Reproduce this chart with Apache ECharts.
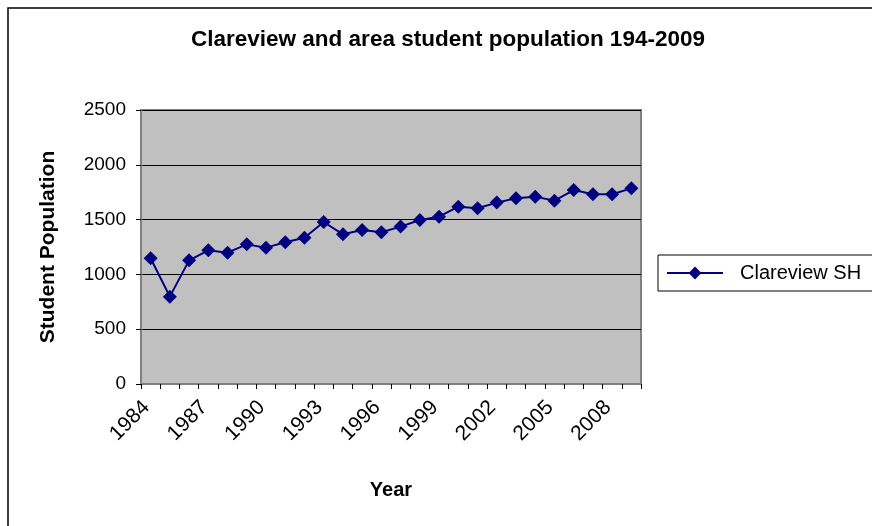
<!DOCTYPE html>
<html>
<head>
<meta charset="utf-8">
<script src="https://cdn.jsdelivr.net/npm/echarts@6/dist/echarts.min.js"></script>
<style>
html,body{margin:0;padding:0;background:#fff;}
#chart{width:872px;height:526px;}
</style>
</head>
<body>
<div id="chart"></div>
<script>
var years = ['1984','1985','1986','1987','1988','1989','1990','1991','1992','1993','1994','1995','1996','1997','1998','1999','2000','2001','2002','2003','2004','2005','2006','2007','2008','2009'];
var population = [1147, 797, 1128, 1220, 1198, 1274, 1244, 1293, 1335, 1478, 1366, 1405, 1384, 1436, 1496, 1527, 1618, 1603, 1655, 1694, 1709, 1673, 1770, 1731, 1731, 1785];
var seriesName = 'Clareview SH';
var titleText = 'Clareview and area student population 194-2009';
var yAxisName = 'Student Population';
var xAxisName = 'Year';

var FONT = '"Liberation Sans", Arial, sans-serif';
var chart = echarts.init(document.getElementById('chart'), null, {renderer: 'canvas'});
chart.setOption({
  animation: false,
  backgroundColor: '#ffffff',
  graphic: [
    {type: 'rect', shape: {x: 8, y: 8, width: 900, height: 600}, style: {fill: 'none', stroke: '#000', lineWidth: 1.5}, z: -10},
    {type: 'text', x: 448, y: 40, style: {text: titleText, font: 'bold 22.5px ' + FONT, fill: '#000', textAlign: 'center', textVerticalAlign: 'middle'}}
  ],
  grid: {left: 141, right: 231, top: 110, bottom: 142, show: true, backgroundColor: '#C0C0C0', borderColor: '#808080', borderWidth: 2},
  legend: {
    left: 658, top: 255, orient: 'vertical',
    itemWidth: 56, itemHeight: 16, itemGap: 5,
    padding: [8, 40, 8, 8],
    borderColor: '#000', borderWidth: 1, backgroundColor: '#fff',
    textStyle: {fontFamily: FONT, fontSize: 20, color: '#000', padding: [0,0,0,12]},
    data: [seriesName]
  },
  xAxis: {
    type: 'category', data: years, boundaryGap: true,
    name: xAxisName, nameLocation: 'middle', nameGap: 96,
    nameTextStyle: {fontFamily: FONT, fontSize: 20, fontWeight: 'bold', color: '#000'},
    axisLine: {show: true, lineStyle: {color: '#808080', width: 2}},
    axisTick: {show: true, interval: 0, alignWithLabel: false, length: 5, lineStyle: {color: '#000'}},
    axisLabel: {interval: 2, rotate: 45, fontFamily: FONT, fontSize: 21, color: '#000', margin: 16, padding: [0, 6, 0, 0]},
    splitLine: {show: false}
  },
  yAxis: {
    type: 'value', min: 0, max: 2500, interval: 500,
    name: yAxisName, nameLocation: 'middle', nameGap: 82, nameRotate: 90,
    nameTextStyle: {fontFamily: FONT, fontSize: 21, fontWeight: 'bold', color: '#000'},
    axisLine: {show: true, lineStyle: {color: '#808080', width: 2}},
    axisTick: {show: true, length: 5, inside: false, lineStyle: {color: '#000'}},
    axisLabel: {fontFamily: FONT, fontSize: 19, color: '#000', margin: 15, formatter: function (v) { return String(v); }},
    splitLine: {show: true, lineStyle: {color: '#000', width: 1}}
  },
  series: [{
    name: seriesName, type: 'line', data: population,
    symbol: 'diamond', symbolSize: 14, showAllSymbol: true,
    lineStyle: {color: '#000080', width: 2},
    itemStyle: {color: '#000080'},
    z: 5
  }]
});
</script>
</body>
</html>
